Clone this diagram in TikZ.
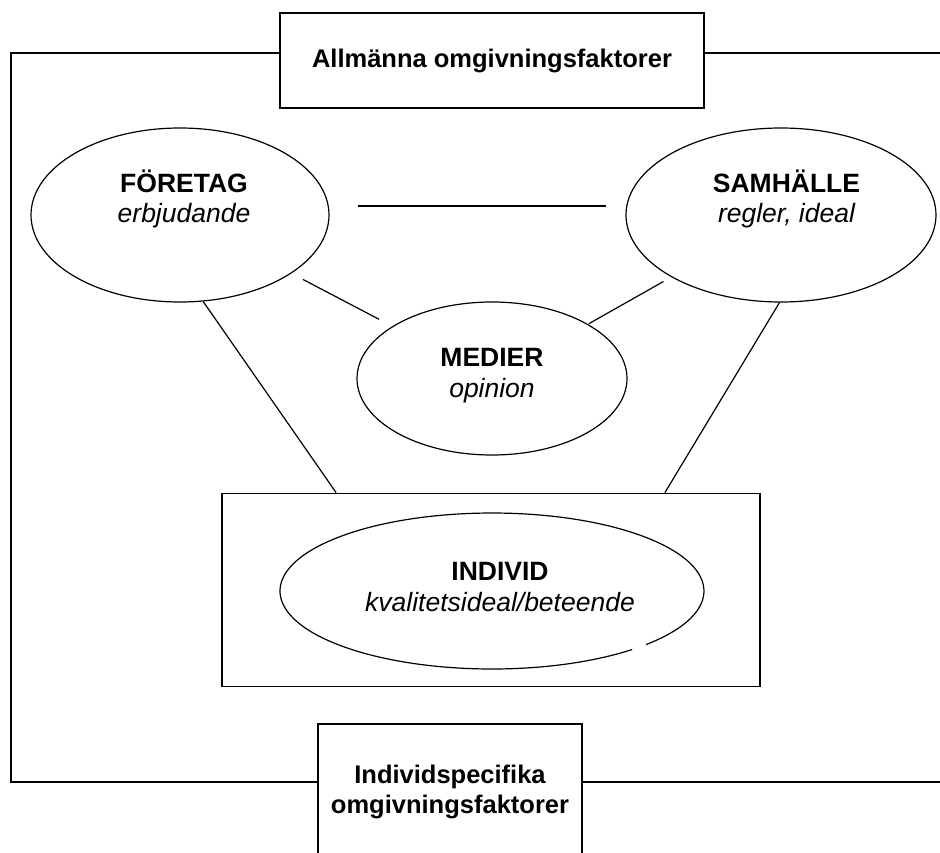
\documentclass[tikz,border=0pt]{standalone}
\usepackage{fontspec}
\setmainfont{Liberation Sans}
\usetikzlibrary{positioning}
\usetikzlibrary{shapes.geometric}

\tikzset{
  ruta/.style={draw, line width=1.8pt, fill=white, inner sep=0pt},
  ramlinje/.style={line width=1.8pt},
  oval/.style={ellipse, draw, line width=1.2pt, inner sep=0pt},
  rutatext/.style={font=\fontsize{25.5}{30.5}\selectfont\bfseries},
  rubrik/.style={font=\fontsize{26.5}{30.5}\selectfont\bfseries, anchor=base},
  undertext/.style={font=\fontsize{26.5}{30.5}\selectfont\itshape, anchor=base},
  band/.style={line width=1.2pt},
}

\begin{document}
\begin{tikzpicture}[x=1pt, y=-1pt]
			\useasboundingbox (0,0) rectangle (940,853);
			% boxes
			\node[ruta, rutatext, minimum width=424, minimum height=95] (allmanna) at (492,60.5) {Allmänna omgivningsfaktorer};
			\node[ruta, minimum width=264, minimum height=146] (indspec) at (450,797) {};
			\node[rutatext, anchor=base] (indspec-rad1) at (450,783) {Individspecifika};
			\node[rutatext, anchor=base] (indspec-rad2) at (450,813) {omgivningsfaktorer};
			\node[ruta, minimum width=538, minimum height=193] (individram) at (491,590) {};
			
			% frame
			\coordinate (ram-no) at (940,53);
			\coordinate (ram-nv) at (11,53);
			\coordinate (ram-sv) at (11,782);
			\coordinate (ram-so) at (940,782);
			\draw[ramlinje] (allmanna.west |- ram-nv) -- (ram-nv) -- (ram-sv) -- (indspec.west |- ram-sv);
			\draw[ramlinje] (allmanna.east |- ram-no) -- (ram-no);
			\draw[ramlinje] (indspec.east |- ram-so) -- (ram-so);
			
			% ellipses
			\node[oval, minimum width=298, minimum height=174] (foretag) at (180,215) {};
			\node[oval, minimum width=310, minimum height=174] (samhalle) at (781,215) {};
			\node[oval, minimum width=270, minimum height=153] (medier) at (492,378.5) {};
			\node[oval, draw=none, minimum width=424, minimum height=156] (indiv) at (492,591) {};
			\draw[band] ([xshift=154pt, yshift=-53.6pt]indiv.center) arc[start angle=-43.4, end angle=311.4, x radius=212pt, y radius=78pt];
			
			\node[rubrik] (foretag-titel) at ([xshift=4pt, yshift=22pt]foretag.center) {FÖRETAG};
			\node[undertext] (foretag-text) at ([xshift=4pt, yshift=-8pt]foretag.center) {erbjudande};
			\node[rubrik] (samhalle-titel) at ([xshift=5.5pt, yshift=22pt]samhalle.center) {SAMHÄLLE};
			\node[undertext] (samhalle-text) at ([xshift=5.5pt, yshift=-8pt]samhalle.center) {regler, ideal};
			\node[rubrik] (medier-titel) at ([yshift=12.5pt]medier.center) {MEDIER};
			\node[undertext] (medier-text) at ([yshift=-18.5pt]medier.center) {opinion};
			\node[rubrik] (indiv-titel) at ([xshift=8pt, yshift=11pt]indiv.center) {INDIVID};
			\node[undertext] (indiv-text) at ([xshift=8pt, yshift=-20pt]indiv.center) {kvalitetsideal/beteende};
			
			% connections
			\draw[band, shorten <=28pt, shorten >=19pt] ([yshift=9pt]foretag.east) -- ([yshift=9pt]samhalle.west);
			\draw[band, shorten <=13pt, shorten >=15pt] (foretag) -- (medier);
			\draw[band, shorten <=9pt, shorten >=1pt] (samhalle) -- (medier);
			\draw[band] (foretag.-75) -- ([xshift=115pt]individram.north west);
			\draw[band] (samhalle.-91) -- ([xshift=-96pt]individram.north east);
		\end{tikzpicture}
\end{document}
